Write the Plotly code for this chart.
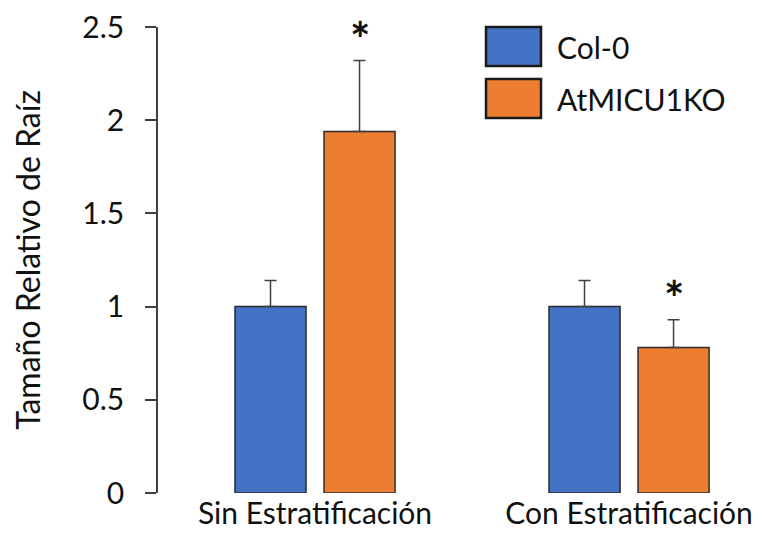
import plotly.graph_objects as go

categories = ["Sin Estratificación", "Con Estratificación"]
series_names = ["Col-0", "AtMICU1KO"]
col0_values = [1.0, 1.0]
col0_errors = [0.14, 0.14]
ko_values = [1.94, 0.78]
ko_errors = [0.38, 0.15]
significance = ["*", "*"]
y_ticks = [0, 0.5, 1, 1.5, 2, 2.5]
y_tick_labels = ["0", "0.5", "1", "1.5", "2", "2.5"]

BLUE = "#4472C4"
ORANGE = "#ED7D31"
EDGE = "#2b2b2b"
FONT = "Lato"

# page body has an 8px margin, so the figure is sized to fill the rest of the window
W, H = 758, 525
L, R, T, B = 150, 6, 19, 40
PW, PH = W - L - R, H - T - B

fig = go.Figure()
fig.add_trace(go.Bar(
    x=categories, y=col0_values, name=series_names[0],
    marker=dict(color=BLUE, line=dict(color=EDGE, width=1.5)),
    error_y=dict(type="data", array=col0_errors, arrayminus=[0, 0], symmetric=False,
                 color="#404040", thickness=1.5, width=6),
))
fig.add_trace(go.Bar(
    x=categories, y=ko_values, name=series_names[1],
    marker=dict(color=ORANGE, line=dict(color=EDGE, width=1.5)),
    error_y=dict(type="data", array=ko_errors, arrayminus=[0, 0], symmetric=False,
                 color="#404040", thickness=1.5, width=6),
))

# significance asterisks above the knockout bars
for cat, v, e, s in zip(categories, ko_values, ko_errors, significance):
    fig.add_annotation(x=cat, y=v + e, text=f"<b>{s}</b>", showarrow=False,
                       xshift=44.5, yshift=-8, yanchor="bottom",
                       font=dict(family=FONT, size=48, color="#111"))

# custom legend with large swatches (positions relative to plot area)
legend_colors = [BLUE, ORANGE]
legend_tops = [27 - 8, 79 - 8]
sw_x0, sw_x1, txt_x = 486 - 8, 541 - 8, 555 - 8
for name, col, top in zip(series_names, legend_colors, legend_tops):
    fig.add_shape(type="rect", xref="paper", yref="paper",
                  x0=(sw_x0 - L) / PW, x1=(sw_x1 - L) / PW,
                  y0=(T + PH - top) / PH, y1=(T + PH - (top + 39)) / PH,
                  fillcolor=col, line=dict(color="#1a1a1a", width=2.5))
    fig.add_annotation(xref="paper", yref="paper",
                       x=(txt_x - L) / PW, y=(T + PH - (top + 19.5)) / PH,
                       text=name, showarrow=False, xanchor="left", yanchor="middle",
                       font=dict(family=FONT, size=30, color="#111"))

fig.update_layout(
    width=W, height=H,
    margin=dict(l=L, r=R, t=T, b=B, autoexpand=False),
    paper_bgcolor="white", plot_bgcolor="white",
    barmode="group", bargap=0.433, bargroupgap=0.202,
    showlegend=False,
    font=dict(family=FONT, color="#111"),
)
fig.update_xaxes(range=[-0.5, 1.417], showline=False, showgrid=False, zeroline=False,
                 automargin=False,
                 ticks="", tickfont=dict(family=FONT, size=30, color="#111"),
                 ticklabelstandoff=0)
fig.update_yaxes(range=[0, 2.5], tickvals=y_ticks, ticktext=y_tick_labels,
                 automargin=False, ticklabeloverflow="allow",
                 showline=True, linecolor="#404040", linewidth=1.5,
                 ticks="outside", ticklen=11, tickwidth=1.5, tickcolor="#404040",
                 showgrid=False, zeroline=False,
                 tickfont=dict(family=FONT, size=30, color="#111"),
                 ticklabelstandoff=15,
                 title=dict(text="Tamaño Relativo de Raíz", standoff=41,
                            font=dict(family=FONT, size=32, color="#111")))

fig.write_html("out.html")
